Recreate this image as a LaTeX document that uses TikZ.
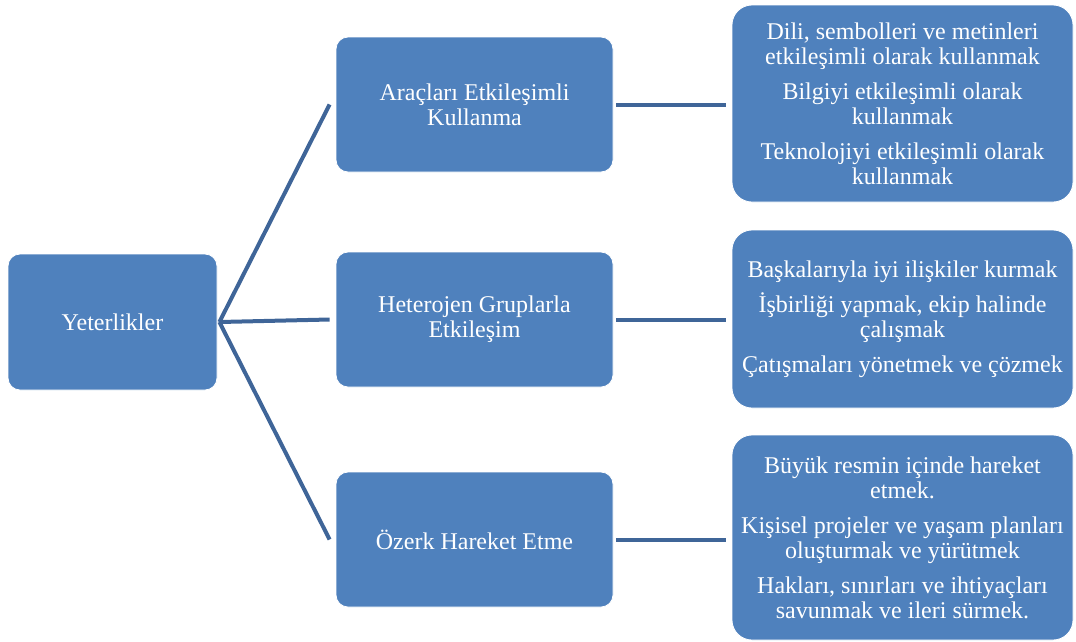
\documentclass[tikz,border=0pt]{standalone}
\usepackage{fontspec}
\setmainfont{Liberation Serif}
\definecolor{boxblue}{HTML}{4F81BD}
\definecolor{lineblue}{HTML}{3F6598}
\begin{document}
\begin{tikzpicture}[x=1pt,y=-1pt,
  box/.style={draw=white, line width=0.8pt, fill=boxblue, text=white,
    font=\rmfamily\fontsize{24}{25}\selectfont, align=center, inner sep=0pt},
  link/.style={draw=lineblue, line width=4pt}]
\useasboundingbox (0,0) rectangle (1076,641);
\node[box, minimum width=209pt, minimum height=136pt, rounded corners=12pt] (root) at (112.5,322) {Yeterlikler};
\node[box, minimum width=277pt, minimum height=135pt, rounded corners=12pt] (a) at (474.5,104.5) {Araçları Etkileşimli\\Kullanma};
\node[box, minimum width=277pt, minimum height=135pt, rounded corners=12pt] (h) at (474.5,319.5) {Heterojen Gruplarla\\Etkileşim};
\node[box, minimum width=277pt, minimum height=135pt, rounded corners=12pt] (o) at (474.5,539.5) {Özerk Hareket Etme};
\node[box, minimum width=341pt, minimum height=197pt, rounded corners=20pt] (ra) at (902.5,103.5) {Dili, sembolleri ve metinleri\\etkileşimli olarak kullanmak\\[10pt]Bilgiyi etkileşimli olarak\\kullanmak\\[10pt]Teknolojiyi etkileşimli olarak\\kullanmak};
\node[box, minimum width=341pt, minimum height=178pt, rounded corners=20pt] (rh) at (902.5,319) {Başkalarıyla iyi ilişkiler kurmak\\[10pt]İşbirliği yapmak, ekip halinde\\çalışmak\\[10pt]Çatışmaları yönetmek ve çözmek};
\node[box, minimum width=341pt, minimum height=205pt, rounded corners=20pt] (ro) at (902.5,537.5) {Büyük resmin içinde hareket\\etmek.\\[10pt]Kişisel projeler ve yaşam planları\\oluşturmak ve yürütmek\\[10pt]Hakları, sınırları ve ihtiyaçları\\savunmak ve ileri sürmek.};
\coordinate (rp) at ([xshift=2pt]root.east);
\draw[link] (rp) -- ([xshift=-6pt]a.west);
\draw[link] (rp) -- ([xshift=-6pt]h.west);
\draw[link] (rp) -- ([xshift=-6pt]o.west);
\draw[link] ([xshift=3pt]a.east) -- ([xshift=-6pt]a.east -| ra.west);
\draw[link] ([xshift=3pt]h.east) -- ([xshift=-6pt]h.east -| rh.west);
\draw[link] ([xshift=3pt]o.east) -- ([xshift=-6pt]o.east -| ro.west);
\end{tikzpicture}
\end{document}
